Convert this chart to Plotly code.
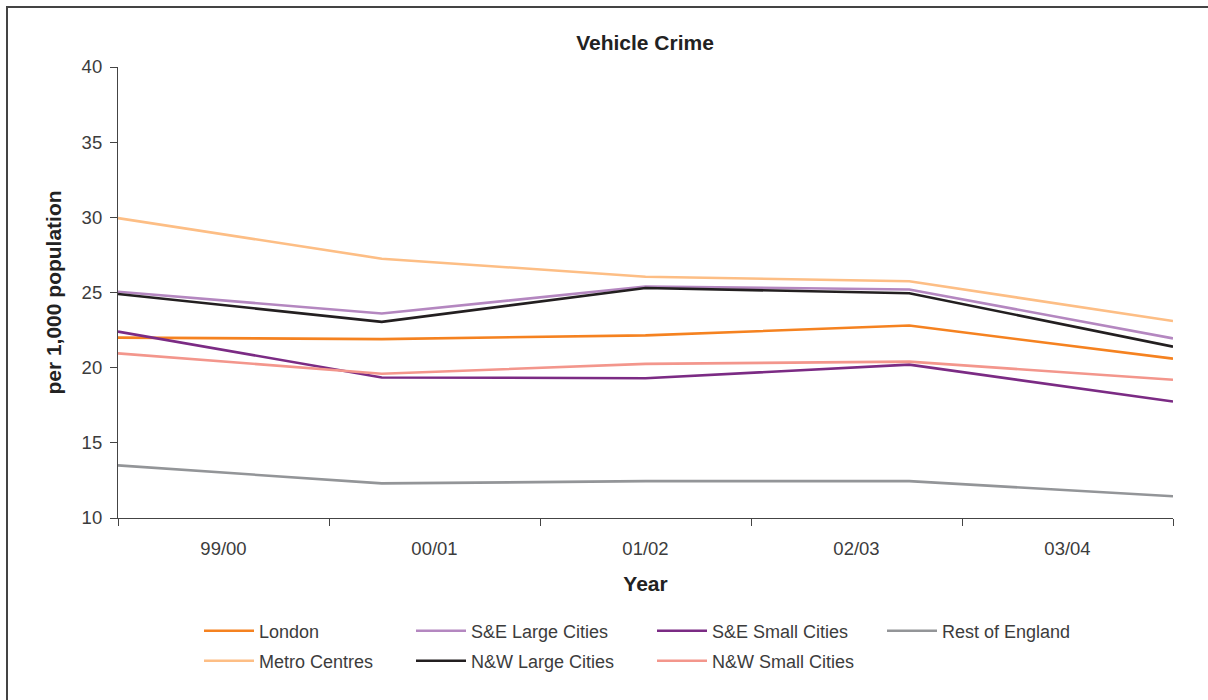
import plotly.graph_objects as go

# Vehicle crime rates per 1,000 population by area type
years = ["99/00", "00/01", "01/02", "02/03", "03/04"]
london = [22.0, 21.9, 22.15, 22.8, 20.6]
metro_centres = [29.95, 27.25, 26.05, 25.75, 23.1]
se_large = [25.05, 23.6, 25.4, 25.2, 21.95]
nw_large = [24.9, 23.05, 25.3, 24.95, 21.4]
se_small = [22.4, 19.35, 19.3, 20.2, 17.75]
nw_small = [20.95, 19.6, 20.25, 20.4, 19.2]
rest_of_england = [13.5, 12.3, 12.45, 12.45, 11.45]

series = [
    ("London", london, "#F58220"),
    ("Metro Centres", metro_centres, "#FDBE85"),
    ("S&E Large Cities", se_large, "#B487C0"),
    ("N&W Large Cities", nw_large, "#231F20"),
    ("S&E Small Cities", se_small, "#7B2B84"),
    ("N&W Small Cities", nw_small, "#F3968C"),
    ("Rest of England", rest_of_england, "#939598"),
]

# plot area in pixels
W, H = 1208, 700
L, R, T, B = 118, 1173, 67, 518


def px_x(p):
    return (p - L) / (R - L)


def px_y(p):
    return (B - p) / (B - T)


n = len(years)
point_x = list(range(n))
band = (n - 1) / n
label_x = [band * (i + 0.5) for i in range(n)]
boundary_x = [band * i for i in range(n + 1)]

FONT = "Liberation Sans, Arial, sans-serif"
TEXT = "#3c3c3c"

# legend slots: column-major, two rows
legend_cols = [205, 417, 658, 888]
legend_rows = [631, 661]

fig = go.Figure()
layout_legends = {}
for k, (name, vals, color) in enumerate(series):
    col, row = divmod(k, 2)
    lg = "legend" if k == 0 else f"legend{k + 1}"
    fig.add_trace(go.Scatter(
        x=point_x, y=vals, mode="lines", name=name,
        line=dict(color=color, width=2.6), legend=lg, showlegend=True,
    ))
    layout_legends[lg] = dict(
        x=px_x(legend_cols[col] - 6), xanchor="left",
        y=px_y(legend_rows[row]), yanchor="middle",
        bgcolor="rgba(0,0,0,0)", borderwidth=0,
        font=dict(family=FONT, size=18, color=TEXT),
        itemwidth=50,
    )

fig.update_layout(
    width=W, height=H,
    showlegend=True,
    margin=dict(l=L, r=W - R, t=T, b=H - B),
    paper_bgcolor="white", plot_bgcolor="white",
    title=dict(
        text="<b>Vehicle Crime</b>",
        x=px_x(645), xanchor="center", xref="paper",
        y=1 - 43 / H, yanchor="middle",
        font=dict(family=FONT, size=21, color="#222"),
    ),
    xaxis=dict(
        range=[0, n - 1], showgrid=False, zeroline=False,
        showline=True, linecolor="#444", linewidth=1.2,
        tickvals=label_x, ticktext=years, ticks="",
        ticklabelstandoff=14,
        tickfont=dict(family=FONT, size=18.5, color=TEXT),
        minor=dict(tickvals=boundary_x, ticks="outside", ticklen=7,
                   tickcolor="#444", tickwidth=1.2),
        title=dict(text="<b>Year</b>", standoff=18,
                   font=dict(family=FONT, size=21, color="#222")),
    ),
    yaxis=dict(
        range=[10, 40], dtick=5, showgrid=False, zeroline=False,
        showline=True, linecolor="#444", linewidth=1.2,
        ticks="outside", ticklen=7, tickcolor="#444", tickwidth=1.2,
        ticklabelstandoff=4,
        tickfont=dict(family=FONT, size=18.5, color=TEXT),
        title=dict(text="<b>per 1,000 population</b>", standoff=14,
                   font=dict(family=FONT, size=21, color="#222")),
    ),
    shapes=[dict(
        type="rect", xref="paper", yref="paper",
        x0=px_x(7), x1=px_x(W + 20), y0=px_y(7), y1=px_y(H + 20),
        line=dict(color="#444", width=2), fillcolor="rgba(0,0,0,0)",
        layer="below",
    )],
    **layout_legends,
)

fig.write_html("out.html")
